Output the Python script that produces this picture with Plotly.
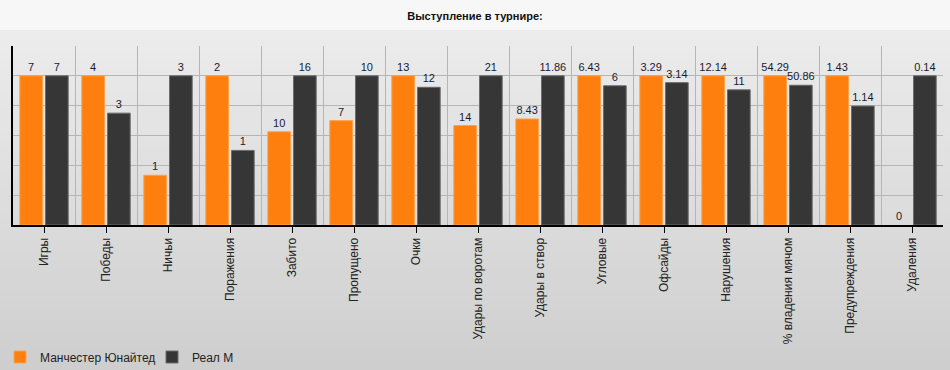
import plotly.graph_objects as go

categories = ["Игры", "Победы", "Ничьи", "Поражения", "Забито", "Пропущено", "Очки",
              "Удары по воротам", "Удары в створ", "Угловые", "Офсайды", "Нарушения",
              "% владения мячом", "Предупреждения", "Удаления"]
man_utd = [7, 4, 1, 2, 10, 7, 13, 14, 8.43, 6.43, 3.29, 12.14, 54.29, 1.43, 0]
real_m = [7, 3, 3, 1, 16, 10, 12, 21, 11.86, 6, 3.14, 11, 50.86, 1.14, 0.14]
series_names = ["Манчестер Юнайтед", "Реал М"]

idx = list(range(len(categories)))
pair_max = [max(a, b) for a, b in zip(man_utd, real_m)]
man_rel = [a / m if m else 0 for a, m in zip(man_utd, pair_max)]
real_rel = [b / m if m else 0 for b, m in zip(real_m, pair_max)]

W, H = 950, 370
ml, mr, mt, mb = 13, 7, 46, 145
pw, ph = W - ml - mr, H - mt - mb


def py(pix):  # figure pixel y -> paper y
    return (H - mb - pix) / ph


def px(pix):
    return (pix - ml) / pw


fig = go.Figure()
fig.add_trace(go.Bar(
    x=idx, y=man_rel, name=series_names[0],
    marker=dict(color="#ff7f0e",
                line=dict(color="#ffa24d", width=[1 if v > 0 else 0 for v in man_utd])),
    text=[f"{v:g}" for v in man_utd], textposition="outside",
    textangle=0, constraintext="none", cliponaxis=False,
    textfont=dict(size=11, color="#1a1a2e", family="Liberation Sans, Arial"),
    hoverinfo="skip",
))
fig.add_trace(go.Bar(
    x=idx, y=real_rel, name=series_names[1],
    marker=dict(color="#363636",
                line=dict(color="#6a6a6a", width=[1 if v > 0 else 0 for v in real_m])),
    text=[f"{v:g}" for v in real_m], textposition="outside",
    textangle=0, constraintext="none", cliponaxis=False,
    textfont=dict(size=11, color="#1a1a2e", family="Liberation Sans, Arial"),
    hoverinfo="skip",
))

shapes = []
# title band
shapes.append(dict(type="rect", xref="paper", yref="paper", layer="below",
                   x0=px(0), x1=px(W), y0=py(30), y1=py(0),
                   fillcolor="#f7f7f7", line=dict(width=0)))
# gradient background
n = 34
for i in range(n):
    y0 = 30 + i * (H - 30) / n
    y1 = 30 + (i + 1) * (H - 30) / n
    c = round(236 - 30 * (i + 0.5) / n)
    shapes.append(dict(type="rect", xref="paper", yref="paper", layer="below",
                       x0=px(0), x1=px(W), y0=py(y1), y1=py(y0),
                       fillcolor=f"rgb({c},{c},{c})", line=dict(width=0)))

fig.update_layout(
    width=W, height=H,
    margin=dict(l=ml, r=mr, t=mt, b=mb, autoexpand=False),
    paper_bgcolor="rgba(0,0,0,0)", plot_bgcolor="rgba(0,0,0,0)",
    shapes=shapes,
    barmode="group", bargap=0.17, bargroupgap=0.12,
    font=dict(family="Liberation Sans, Arial", color="#222222"),
    title=dict(text="<b>Выступление в турнире:</b>", x=0.5, xanchor="center",
               xref="container", y=1 - 16 / H, yref="container", yanchor="middle",
               font=dict(size=11, color="#111111", family="Liberation Sans, Arial")),
    xaxis=dict(
        range=[-0.5, len(categories) - 0.5],
        tickmode="array", tickvals=idx, ticktext=categories,
        tickangle=-90, tickfont=dict(size=12, color="#222222"),
        ticks="outside", ticklen=6, tickwidth=1, tickcolor="#000000",
        showgrid=False, zeroline=False, automargin=False,
        showline=True, linecolor="#000000", linewidth=2,
        minor=dict(tickmode="linear", tick0=0.5, dtick=1, showgrid=True,
                   gridcolor="#b5b5b5", gridwidth=1, ticks=""),
        fixedrange=True,
    ),
    yaxis=dict(
        range=[0, 1.2], dtick=0.2, showticklabels=False, automargin=False,
        showgrid=True, gridcolor="#b5b5b5", gridwidth=1,
        zeroline=False, showline=True, linecolor="#000000", linewidth=2,
        mirror=False, fixedrange=True,
    ),
    legend=dict(orientation="h", xref="container", yref="container",
                x=0, xanchor="left", y=1 - 357 / H, yanchor="middle",
                bgcolor="rgba(0,0,0,0)", font=dict(size=12, color="#222222"),
                entrywidth=107, entrywidthmode="pixels", traceorder="normal"),
    showlegend=True,
)
fig.write_html(
    "out.html",
    config={"displayModeBar": False},
    post_script="document.body.style.margin='0';document.body.style.padding='0';"
                "document.documentElement.style.overflow='hidden';",
)
